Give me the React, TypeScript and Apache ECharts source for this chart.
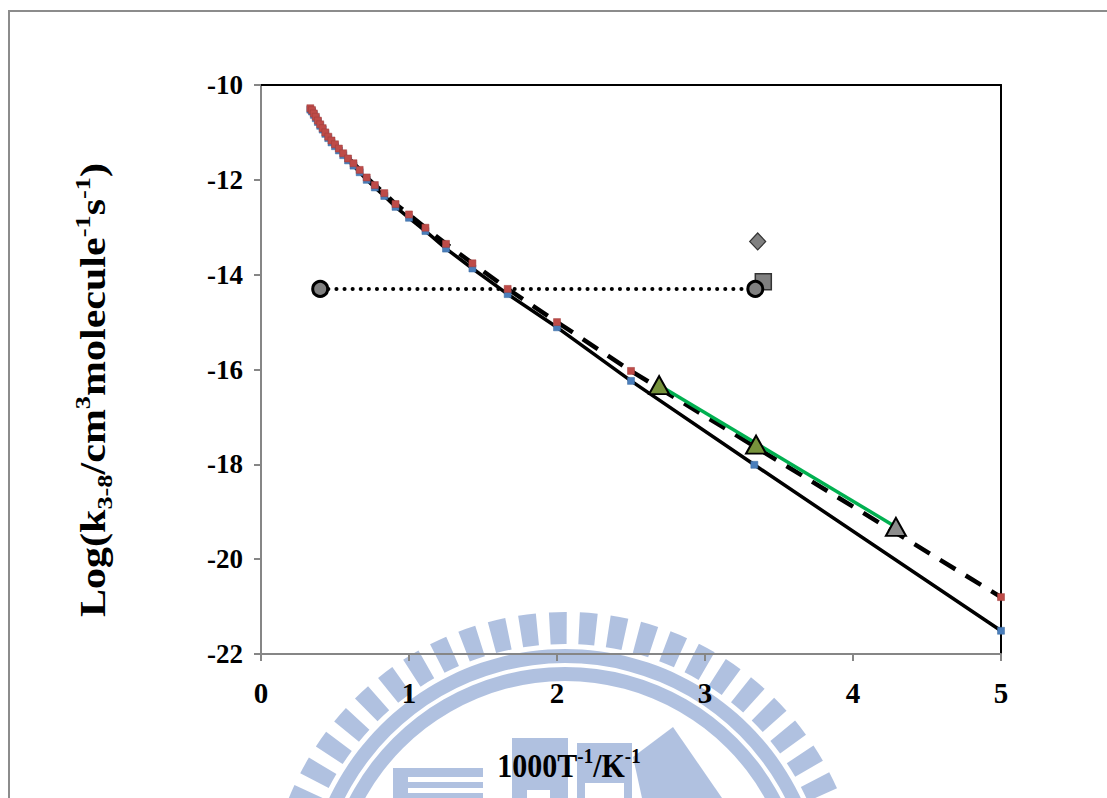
import React, { useEffect, useRef } from "react";
import * as echarts from "echarts";

// 1000/T values (K^-1 x 1000)
const invT = [0.3333, 0.3448, 0.3571, 0.3704, 0.3846, 0.4, 0.4167, 0.4348, 0.4545, 0.4762, 0.5, 0.5263, 0.5556, 0.5882, 0.625, 0.6667, 0.7143, 0.7692, 0.8333, 0.9091, 1.0, 1.1111, 1.25, 1.4286, 1.6667, 2.0, 2.5, 3.3333, 5.0];
// solid curve (blue markers)
const logKSolid = [-10.52, -10.56, -10.63, -10.7, -10.78, -10.86, -10.94, -11.03, -11.12, -11.21, -11.29, -11.38, -11.48, -11.59, -11.7, -11.84, -12.0, -12.16, -12.34, -12.57, -12.8, -13.08, -13.45, -13.87, -14.41, -15.11, -16.24, -18.01, -21.51];
// dashed curve (red markers)
const logKDashed = [-10.49, -10.53, -10.6, -10.67, -10.75, -10.83, -10.91, -11.0, -11.09, -11.17, -11.25, -11.34, -11.44, -11.55, -11.65, -11.79, -11.95, -12.11, -12.28, -12.51, -12.73, -13.01, -13.35, -13.76, -14.3, -15.0, -16.03, -17.62, -20.8];
// dotted horizontal (circles)
const dottedX = [0.4, 3.34];
const dottedY = [-14.3, -14.3];
// single gray points
const diamondPt = [3.356, -13.3];
const squarePt = [3.394, -14.15];
// triangles
const greenTriX = [2.69, 3.345];
const greenTriY = [-16.33, -17.585];
const grayTriX = [4.29];
const grayTriY = [-19.32];
// green fit line
const greenLineX = [2.69, 4.29];
const greenLineY = [-16.33, -19.32];

const xTicks = { min: 0, max: 5, interval: 1 };
const yTicks = { min: -22, max: -10, interval: 2 };

const FONT = "'Liberation Serif', 'Times New Roman', serif";

const zip = (xs: number[], ys: number[]) => xs.map((x, i) => [x, ys[i]]);

function watermark() {
  const cx = 565;
  const cy = 910;
  const fill = "rgb(63,105,180)";
  const op = 0.41;
  const els: any[] = [];
  const step = 0.104;
  const half = 0.03;
  for (let k = -31; k <= 31; k++) {
    const a = -Math.PI / 2 - 0.024 + k * step;
    els.push({
      type: "sector",
      shape: { cx, cy, r0: 266, r: 298, startAngle: a - half, endAngle: a + half },
      style: { fill, opacity: op },
      silent: true,
    });
  }
  els.push({ type: "ring", shape: { cx, cy, r: 261, r0: 247 }, style: { fill, opacity: op }, silent: true });
  els.push({ type: "ring", shape: { cx, cy, r: 243, r0: 229 }, style: { fill, opacity: op }, silent: true });
  // inner seal shapes
  const rects = [
    [393, 768, 15, 30],
    [408, 768, 75, 9],
    [408, 782, 75, 6],
    [408, 793, 75, 5],
    [512, 738, 56, 52],
    [512, 790, 15, 8],
    [550, 790, 18, 8],
    [577, 743, 55, 40],
    [577, 783, 8, 15],
    [624, 783, 8, 15],
  ];
  rects.forEach(([x, y, w, h]) =>
    els.push({ type: "rect", shape: { x, y, width: w, height: h }, style: { fill, opacity: op }, silent: true })
  );
  els.push({
    type: "polygon",
    shape: { points: [[633, 757], [673, 727], [722, 798], [642, 798]] },
    style: { fill, opacity: op },
    silent: true,
  });
  return { type: "group", z: 100, children: els };
}

export default function App() {
  const ref = useRef<HTMLDivElement>(null);
  useEffect(() => {
    if (!ref.current) return;
    const chart = echarts.init(ref.current, undefined, { renderer: "svg" });
    const labelStyle = { fontFamily: FONT, fontWeight: "bold" as const, color: "#000" };
    const option: any = {
      animation: false,
      backgroundColor: "#fff",
      grid: { left: 261, top: 85, right: 106, bottom: 144, containLabel: false },
      xAxis: [
        {
          type: "value",
          ...xTicks,
          position: "bottom",
          axisLine: { show: true, onZero: false, lineStyle: { color: "#868686", width: 2 } },
          axisTick: { show: true, length: 7, lineStyle: { color: "#868686", width: 2 } },
          axisLabel: { ...labelStyle, fontSize: 29, margin: 24 },
          splitLine: { show: false },
        },
        {
          type: "value",
          ...xTicks,
          position: "top",
          axisLine: { show: true, onZero: false, lineStyle: { color: "#000", width: 2 } },
          axisTick: { show: false },
          axisLabel: { show: false },
          splitLine: { show: false },
        },
      ],
      yAxis: [
        {
          type: "value",
          ...yTicks,
          position: "left",
          axisLine: { show: true, onZero: false, lineStyle: { color: "#868686", width: 2 } },
          axisTick: { show: true, length: 7, lineStyle: { color: "#868686", width: 2 } },
          axisLabel: { ...labelStyle, fontSize: 27, margin: 18 },
          splitLine: { show: false },
        },
        {
          type: "value",
          ...yTicks,
          position: "right",
          axisLine: { show: true, onZero: false, lineStyle: { color: "#000", width: 2 } },
          axisTick: { show: false },
          axisLabel: { show: false },
          splitLine: { show: false },
        },
      ],
      series: [
        {
          type: "line",
          data: zip(invT, logKSolid),
          showSymbol: false,
          lineStyle: { color: "#000", width: 3.5 },
          z: 2,
        },
        {
          type: "line",
          data: zip(invT, logKDashed),
          showSymbol: false,
          lineStyle: { color: "#000", width: 4.5, type: [18, 12] },
          z: 2,
        },
        {
          type: "line",
          data: zip(greenLineX, greenLineY),
          showSymbol: false,
          lineStyle: { color: "#00B050", width: 3.5 },
          z: 3,
        },
        {
          type: "line",
          data: zip(dottedX, dottedY),
          showSymbol: false,
          lineStyle: { color: "#000", width: 4, type: [0.1, 8], cap: "round" },
          z: 3,
        },
        {
          type: "scatter",
          data: zip(invT, logKSolid),
          symbol: "rect",
          symbolSize: 7,
          itemStyle: { color: "#4A7EBB", borderColor: "#3A6AA0", borderWidth: 0.5, opacity: 1 },
          z: 5,
        },
        {
          type: "scatter",
          data: zip(invT, logKDashed),
          symbol: "rect",
          symbolSize: 7,
          itemStyle: { color: "#BE4B48", borderColor: "#A03C3A", borderWidth: 0.5, opacity: 1 },
          z: 6,
        },
        {
          type: "scatter",
          data: [diamondPt],
          symbol: "diamond",
          symbolSize: [16, 17],
          itemStyle: { color: "#808080", borderColor: "#333", borderWidth: 1.2, opacity: 1 },
          z: 7,
        },
        {
          type: "scatter",
          data: [squarePt],
          symbol: "rect",
          symbolSize: 16,
          itemStyle: { color: "#808080", borderColor: "#333", borderWidth: 1.5, opacity: 1 },
          z: 7,
        },
        {
          type: "scatter",
          data: zip(dottedX, dottedY),
          symbol: "circle",
          symbolSize: 15,
          itemStyle: { color: "#808080", borderColor: "#000", borderWidth: 3, opacity: 1 },
          z: 8,
        },
        {
          type: "scatter",
          data: zip(greenTriX, greenTriY),
          symbol: "triangle",
          symbolSize: [20, 18],
          itemStyle: { color: "#77933C", borderColor: "#000", borderWidth: 2, opacity: 1 },
          z: 8,
        },
        {
          type: "scatter",
          data: zip(grayTriX, grayTriY),
          symbol: "triangle",
          symbolSize: [20, 18],
          itemStyle: { color: "#8C8C8C", borderColor: "#000", borderWidth: 2, opacity: 1 },
          z: 8,
        },
      ],
      graphic: [
        {
          type: "rect",
          shape: { x: 9, y: 11, width: 1120, height: 820 },
          style: { fill: "none", stroke: "#8C8C8C", lineWidth: 2 },
          silent: true,
          z: 0,
        },
        {
          type: "text",
          x: 93,
          y: 390,
          rotation: Math.PI / 2,
          scaleX: 1.2,
          style: {
            text: "Log(k{sub|3-8}/cm{sup|3}molecule{sup|-1}s{sup|-1})",
            fontFamily: FONT,
            fontWeight: "bold",
            fontSize: 35,
            lineHeight: 44,
            fill: "#000",
            align: "center",
            verticalAlign: "middle",
            rich: {
              sub: { fontFamily: FONT, fontWeight: "bold", fontSize: 22, lineHeight: 22, verticalAlign: "bottom", fill: "#000" },
              sup: { fontFamily: FONT, fontWeight: "bold", fontSize: 22, lineHeight: 22, verticalAlign: "top", fill: "#000" },
            },
          },
          z: 10,
        },
        {
          type: "text",
          x: 569,
          y: 766,
          scaleY: 1.12,
          style: {
            text: "1000T{sup|-1}/K{sup|-1}",
            fontFamily: FONT,
            fontWeight: "bold",
            fontSize: 30,
            lineHeight: 38,
            fill: "#000",
            align: "center",
            verticalAlign: "middle",
            rich: {
              sup: { fontFamily: FONT, fontWeight: "bold", fontSize: 19, lineHeight: 19, verticalAlign: "top", fill: "#000" },
            },
          },
          z: 10,
        },
        watermark(),
      ],
    };
    chart.setOption(option);
    return () => chart.dispose();
  }, []);
  return (
    <div
      ref={ref}
      style={{ position: "fixed", left: 0, top: 0, width: 1107, height: 798, background: "#fff" }}
    />
  );
}
